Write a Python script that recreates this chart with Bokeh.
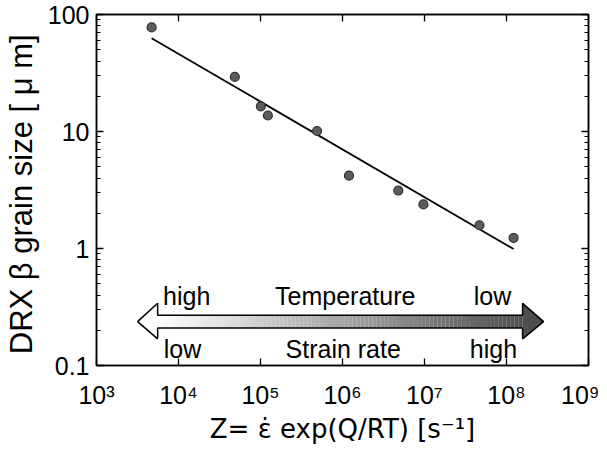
import numpy as np
from bokeh.plotting import figure
from bokeh.models import LogAxis, FixedTicker, Label, CustomJSTickFormatter, Range1d
from bokeh.embed import file_html
from bokeh.resources import INLINE

# ---- data ----
z_values = [4.7e3, 4.86e4, 1.01e5, 1.23e5, 4.89e5, 1.2e6, 4.79e6, 9.7e6, 4.68e7, 1.22e8]
grain_sizes = [77.6, 29.3, 16.4, 13.7, 10.1, 4.19, 3.13, 2.38, 1.58, 1.23]
fit_z = [4.7e3, 1.22e8]
fit_d = [62.7, 0.99]

x_tick_values = [1e3, 1e4, 1e5, 1e6, 1e7, 1e8, 1e9]
x_tick_labels = ["10³", "10⁴", "10⁵", "10⁶", "10⁷", "10⁸", "10⁹"]
y_tick_values = [0.1, 1, 10, 100]
y_tick_labels = ["0.1", "1", "10", "100"]

top_labels = ["high", "Temperature", "low"]
bottom_labels = ["low", "Strain rate", "high"]

FONT = "Liberation Sans"

p = figure(width=599, height=446, x_axis_type="log", y_axis_type="log",
           x_range=Range1d(1e3, 1e9), y_range=Range1d(0.1, 100),
           output_backend="svg", toolbar_location=None,
           min_border_left=96, min_border_top=14, min_border_right=11, min_border_bottom=77)
p.grid.visible = False
p.outline_line_color = "black"
p.outline_line_width = 1.5
p.background_fill_color = "white"
p.border_fill_color = "white"

fmt_code = """
for (let i = 0; i < vals.length; i++) {
  if (Math.abs(Math.log10(tick) - Math.log10(vals[i])) < 1e-6) return labs[i];
}
return "";
"""
x_minor = [k * 10.0 ** e for e in range(3, 9) for k in range(2, 10)]
y_minor = [k * 10.0 ** e for e in range(-1, 2) for k in range(2, 10)]

def style(ax, ticks, minor, labels, show_labels, show_minor):
    ax.ticker = FixedTicker(ticks=ticks, minor_ticks=minor if show_minor else [])
    ax.axis_line_color = "black"
    ax.axis_line_width = 1.5
    ax.major_tick_in = 7
    ax.major_tick_out = 0
    ax.minor_tick_in = 4
    ax.minor_tick_out = 0
    ax.major_tick_line_width = 1.3
    ax.minor_tick_line_width = 1.0
    ax.major_label_text_font = FONT
    ax.major_label_text_color = "black"
    ax.major_label_text_font_size = "25px"
    if show_labels:
        ax.formatter = CustomJSTickFormatter(args=dict(vals=ticks, labs=labels), code=fmt_code)
    else:
        ax.formatter = CustomJSTickFormatter(code="return '';")
        ax.major_label_standoff = 0

xa = p.xaxis[0]
ya = p.yaxis[0]
style(xa, x_tick_values, x_minor, x_tick_labels, True, False)
style(ya, y_tick_values, y_minor, y_tick_labels, True, True)
xa.major_label_standoff = 15
ya.major_label_standoff = 7

top = LogAxis()
right = LogAxis()
style(top, x_tick_values, x_minor, x_tick_labels, False, False)
style(right, y_tick_values, y_minor, y_tick_labels, False, True)
p.add_layout(top, "above")
p.add_layout(right, "right")

xa.axis_label = "Z= ε̇ exp(Q/RT) [s⁻¹]"
ya.axis_label = "DRX  β grain size [ μ m]"
xa.axis_label_text_font = "DejaVu Sans"
xa.axis_label_text_font_size = "26px"
ya.axis_label_text_font = FONT
ya.axis_label_text_font_size = "31px"
for ax in (xa, ya):
    ax.axis_label_text_font_style = "normal"
    ax.axis_label_text_color = "black"
xa.axis_label_standoff = 2
ya.axis_label_standoff = 6

# ---- fit line and points ----
p.line(fit_z, fit_d, line_color="black", line_width=1.8)
p.scatter(z_values, grain_sizes, size=9, fill_color="#5c5c5c", line_color="#2e2e2e", line_width=1.2)

# ---- double arrow with gradient ----
tip_l, base_l, base_r, tip_r = 3.17e3, 5.57e3, 1.57e8, 2.83e8
y_mid, s_top, s_bot, h_top, h_bot = 0.237, 0.269, 0.209, 0.340, 0.169

n = 90
edges = np.logspace(np.log10(base_l), np.log10(base_r), n + 1)
cols = []
for i in range(n):
    t = (i + 0.5) / n
    g = int(round(255 - (255 - 78) * t))
    cols.append("#%02x%02x%02x" % (g, g, g))
p.quad(left=edges[:-1], right=edges[1:] * 1.002, bottom=[s_bot] * n, top=[s_top] * n,
       fill_color=cols, line_color=None)
p.patch([tip_l, base_l, base_l], [y_mid, h_top, h_bot], fill_color="white", line_color=None)
p.patch([tip_r, base_r, base_r], [y_mid, h_top, h_bot], fill_color="#4e4e4e", line_color=None)
ox = [tip_l, base_l, base_l, base_r, base_r, tip_r, base_r, base_r, base_l, base_l, tip_l]
oy = [y_mid, h_top, s_top, s_top, h_top, y_mid, h_bot, s_bot, s_bot, h_bot, y_mid]
p.line(ox, oy, line_color="black", line_width=1.5)

# ---- arrow texts ----
top_x = [1.26e4, 1.08e6, 6.75e7]
bot_x = [1.12e4, 1.02e6, 6.93e7]
for xx, txt in zip(top_x, top_labels):
    p.add_layout(Label(x=xx, y=0.390, text=txt, text_align="center", text_baseline="middle",
                       text_font=FONT, text_font_size="25px", text_color="black"))
for xx, txt in zip(bot_x, bottom_labels):
    p.add_layout(Label(x=xx, y=0.139, text=txt, text_align="center", text_baseline="middle",
                       text_font=FONT, text_font_size="25px", text_color="black"))

open("out.html", "w").write(file_html(p, INLINE))
